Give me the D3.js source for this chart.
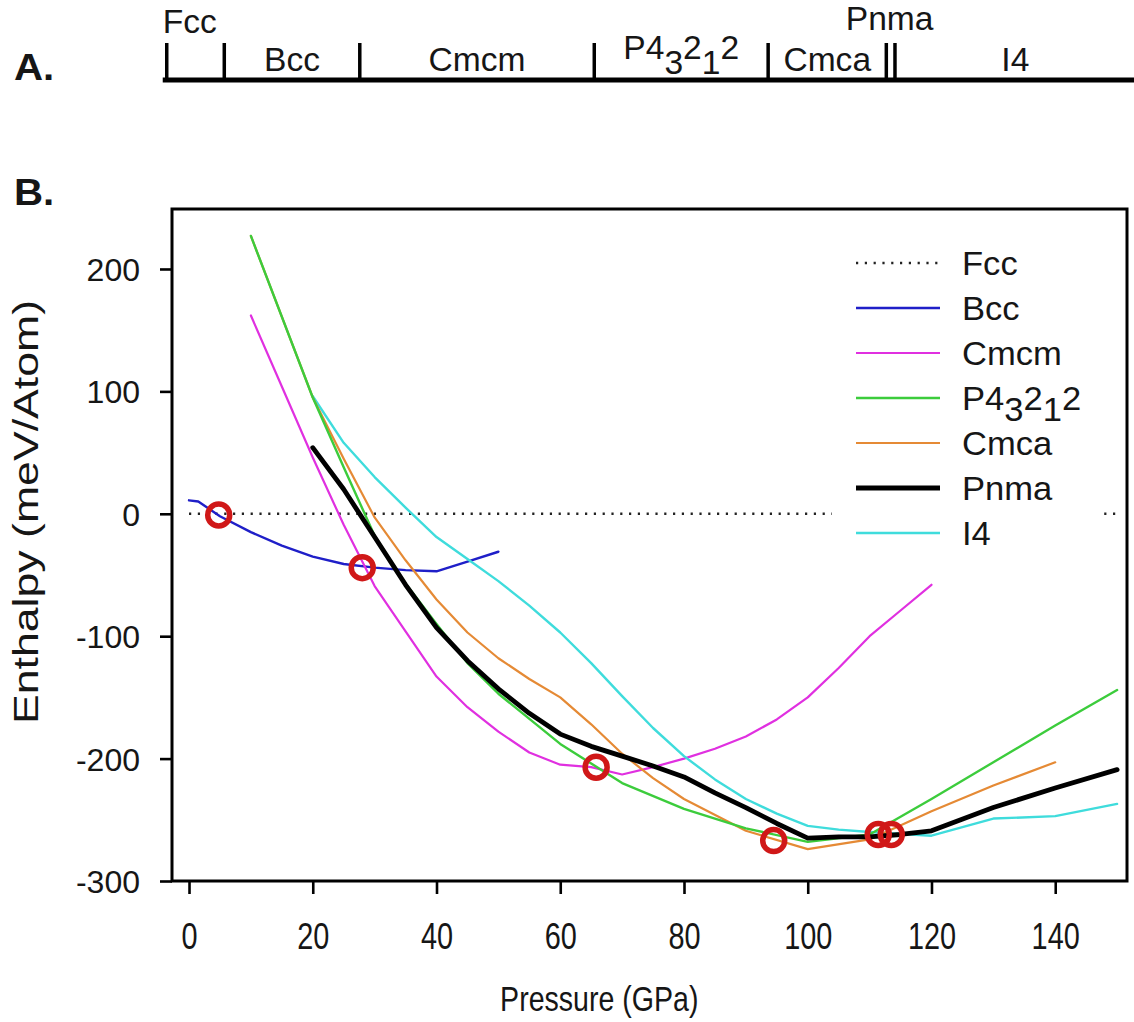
<!DOCTYPE html>
<html><head><meta charset="utf-8">
<script src="https://cdn.jsdelivr.net/npm/d3@7"></script>
<style>
body{margin:0;background:#fff}
svg{display:block;background:#fff}
text{font-family:"Liberation Sans",Arial,Helvetica,sans-serif;fill:#161616}
</style>
</head><body>
<svg id="chart" width="1134" height="1022"></svg>
<script>
// ---------- data ----------
const pressureTicks = [0, 20, 40, 60, 80, 100, 120, 140];
const enthalpyTicks = [-300, -200, -100, 0, 100, 200];

const seriesNames = ["Fcc", "Bcc", "Cmcm", "P4₃2₁2", "Cmca", "Pnma", "I4"];

const fccP = [0, 150];
const fccE = [0, 0];

const bccP = [0, 1.5, 5, 10, 15, 20, 25, 30, 35, 40, 45, 50];
const bccE = [11, 10, -2, -15, -26, -35, -41, -44, -46, -47, -39, -31];

const cmcmP = [10, 15, 20, 25, 30, 35, 40, 45, 50, 55, 60, 65, 70, 75, 80, 85, 90, 95, 100, 105, 110, 115, 120];
const cmcmE = [162, 104, 46, -9, -59, -96, -133, -158, -178, -195, -205, -207, -213, -207, -200, -192, -182, -168, -150, -126, -100, -79, -58];

const p43212P = [10, 20, 25, 30, 35, 40, 45, 50, 60, 70, 80, 90, 100, 110, 120, 130, 140, 150];
const p43212E = [227, 95, 38, -18, -57, -90, -122, -147, -188, -220, -241, -257, -268, -262, -233, -203, -173, -144];

const cmcaP = [10, 20, 25, 30, 35, 40, 45, 50, 55, 60, 65, 70, 75, 80, 90, 100, 110, 120, 130, 140];
const cmcaE = [227, 95, 45, -3, -38, -70, -97, -118, -135, -150, -172, -196, -216, -233, -259, -274, -266, -243, -222, -203];

const pnmaP = [20, 25, 30, 35, 40, 45, 50, 55, 60, 65, 70, 75, 80, 85, 90, 95, 100, 105, 110, 115, 120, 130, 140, 150];
const pnmaE = [54, 20, -19, -58, -93, -120, -143, -163, -180, -190, -198, -206, -215, -228, -240, -253, -265, -264, -264, -262, -259, -240, -224, -209];

const i4P = [20, 25, 30, 35, 40, 45, 50, 55, 60, 65, 70, 75, 80, 85, 90, 95, 100, 105, 110, 120, 130, 140, 150];
const i4E = [96, 58, 30, 5, -19, -37, -55, -75, -97, -122, -149, -175, -198, -217, -233, -245, -255, -258, -260, -263, -249, -247, -237];

const transitionP = [4.8, 28, 65.8, 94.5, 111.4, 113.5];
const transitionE = [-1, -44, -207, -267, -262, -262];

// phase-stability bar (panel A): boundaries in GPa
const phaseNames = ["Fcc", "Bcc", "Cmcm", "P4₃2₁2", "Cmca", "Pnma", "I4"];
const phaseBounds = [-3.6, 5.7, 27.6, 65.5, 93.6, 112.7, 114.1, 153];

// ---------- styles ----------
const seriesStyle = {
  "Fcc":    {color: "#222", width: 2.4, dash: "2.2,6.6"},
  "Bcc":    {color: "#1f1fc8", width: 2.4},
  "Cmcm":   {color: "#e030e0", width: 2.2},
  "P4₃2₁2": {color: "#3ccc3c", width: 2.4},
  "Cmca":   {color: "#e58a35", width: 2.2},
  "Pnma":   {color: "#000000", width: 4.8},
  "I4":     {color: "#3fdcdc", width: 2.4}
};
const seriesData = {
  "Fcc": [fccP, fccE], "Bcc": [bccP, bccE], "Cmcm": [cmcmP, cmcmE],
  "P4₃2₁2": [p43212P, p43212E], "Cmca": [cmcaP, cmcaE],
  "Pnma": [pnmaP, pnmaE], "I4": [i4P, i4E]
};
const drawOrder = ["Fcc", "Bcc", "Cmcm", "I4", "Cmca", "P4₃2₁2", "Pnma"];

// ---------- helpers ----------
const subMap = {"₁": "1", "₂": "2", "₃": "3"};
function richText(sel, str, shift) {
  let runs = [];
  for (const ch of str) {
    const sub = ch in subMap;
    const c = sub ? subMap[ch] : ch;
    if (runs.length && runs[runs.length - 1].sub === sub) runs[runs.length - 1].t += c;
    else runs.push({t: c, sub});
  }
  let cur = 0;
  runs.forEach(r => {
    const target = r.sub ? shift : 0;
    sel.append("tspan").attr("dy", target - cur).text(r.t);
    cur = target;
  });
}

// ---------- chart ----------
const svg = d3.select("#chart");
const x = d3.scaleLinear().domain([-2.75, 151.6]).range([172, 1127]);
const y = d3.scaleLinear().domain([-300, 249]).range([881, 209]);

// Panel labels
svg.append("text").attr("transform", "translate(14,80) scale(1.12,1.05)")
  .style("font-size", "36px").style("font-weight", "bold").text("A.");
svg.append("text").attr("transform", "translate(14,205) scale(1.12,1.05)")
  .style("font-size", "36px").style("font-weight", "bold").text("B.");

// Panel A bar
const barY = 80;
svg.append("line").attr("x1", x(phaseBounds[0]) - 4).attr("x2", x(phaseBounds[phaseBounds.length - 1]))
  .attr("y1", barY).attr("y2", barY).attr("stroke", "#000").attr("stroke-width", 5);
svg.selectAll(".ptick").data(phaseBounds.slice(0, -1)).enter().append("line")
  .attr("x1", d => x(d)).attr("x2", d => x(d)).attr("y1", 43).attr("y2", barY)
  .attr("stroke", "#000").attr("stroke-width", 3.5);

phaseNames.forEach((name, i) => {
  const a = phaseBounds[i], b = phaseBounds[i + 1];
  let px, py, anchor = "middle";
  if (name === "Fcc") { px = x(a) - 4; py = 33; anchor = "start"; }
  else if (name === "Pnma") { px = x((a + b) / 2) - 1; py = 30; }
  else if (name === "P4₃2₁2") { px = x((a + b) / 2); py = 59; }
  else { px = x((a + b) / 2); py = 71; }
  const t = svg.append("text").attr("transform", `translate(${px},${py}) scale(1.05,1.05)`)
    .attr("text-anchor", anchor).style("font-size", "32px");
  richText(t, name, 14);
});

// Panel B axes
const gy = svg.append("g").attr("transform", `translate(${x.range()[0]},0)`)
  .call(d3.axisLeft(y).tickValues(enthalpyTicks).tickSize(12).tickPadding(20).tickFormat(d => String(d)));
gy.select(".domain").remove();
gy.selectAll(".tick line").attr("stroke", "#000").attr("stroke-width", 2.6);
gy.selectAll(".tick text").style("font-size", "32px").attr("fill", "#161616")
  .style("font-family", '"Liberation Sans",Arial,sans-serif').attr("dy", "0.36em");

const gx = svg.append("g").attr("transform", `translate(0,${y.range()[0]})`)
  .call(d3.axisBottom(x).tickValues(pressureTicks).tickSize(13).tickPadding(25));
gx.select(".domain").remove();
gx.selectAll(".tick line").attr("stroke", "#000").attr("stroke-width", 2.6);
gx.selectAll(".tick text").style("font-size", "34px").attr("fill", "#161616")
  .style("font-family", '"Liberation Sans",Arial,sans-serif').attr("transform", "scale(0.85,1.1)");

// titles
svg.append("text").attr("transform", `translate(${x(66.3)},1011) scale(0.84,1.05)`)
  .attr("text-anchor", "middle").style("font-size", "34px").text("Pressure (GPa)");
svg.append("text").attr("transform", `translate(38,${y(1.5)}) rotate(-90) scale(1.24,1)`)
  .attr("text-anchor", "middle").style("font-size", "36px").text("Enthalpy (meV/Atom)");

// frame
const [x0, x1] = x.range(), [yb, yt] = y.range();
svg.append("rect").attr("x", x0).attr("y", yt).attr("width", x1 - x0).attr("height", yb - yt)
  .attr("fill", "none").attr("stroke", "#000").attr("stroke-width", 3);

// curves
const line = d3.line().x(d => x(d[0])).y(d => y(d[1]));
drawOrder.forEach(name => {
  const [ps, es] = seriesData[name];
  const st = seriesStyle[name];
  svg.append("path").datum(ps.map((p, i) => [p, es[i]]))
    .attr("d", line).attr("fill", "none").attr("stroke", st.color)
    .attr("stroke-width", st.width).attr("stroke-linejoin", "round")
    .attr("stroke-linecap", name === "Fcc" ? "butt" : "round")
    .attr("stroke-dasharray", st.dash || null);
});

// transition markers
svg.selectAll(".tr").data(transitionP.map((p, i) => [p, transitionE[i]])).enter()
  .append("circle").attr("cx", d => x(d[0])).attr("cy", d => y(d[1])).attr("r", 11)
  .attr("fill", "none").attr("stroke", "#d01818").attr("stroke-width", 5.5);

// legend
const lgX = 832, lgY0 = 263, lgStep = 45;
svg.append("rect").attr("x", lgX).attr("y", 240).attr("width", 270).attr("height", 314).attr("fill", "#fff");
seriesNames.forEach((name, i) => {
  const st = seriesStyle[name];
  const yy = lgY0 + i * lgStep;
  svg.append("line").attr("x1", 856).attr("x2", 940).attr("y1", yy).attr("y2", yy)
    .attr("stroke", st.color).attr("stroke-width", st.width)
    .attr("stroke-dasharray", st.dash || null);
  const t = svg.append("text").attr("transform", `translate(962,${yy + 12}) scale(1.08,1.02)`)
    .style("font-size", "32px");
  richText(t, name, 11);
});
</script>
</body></html>
